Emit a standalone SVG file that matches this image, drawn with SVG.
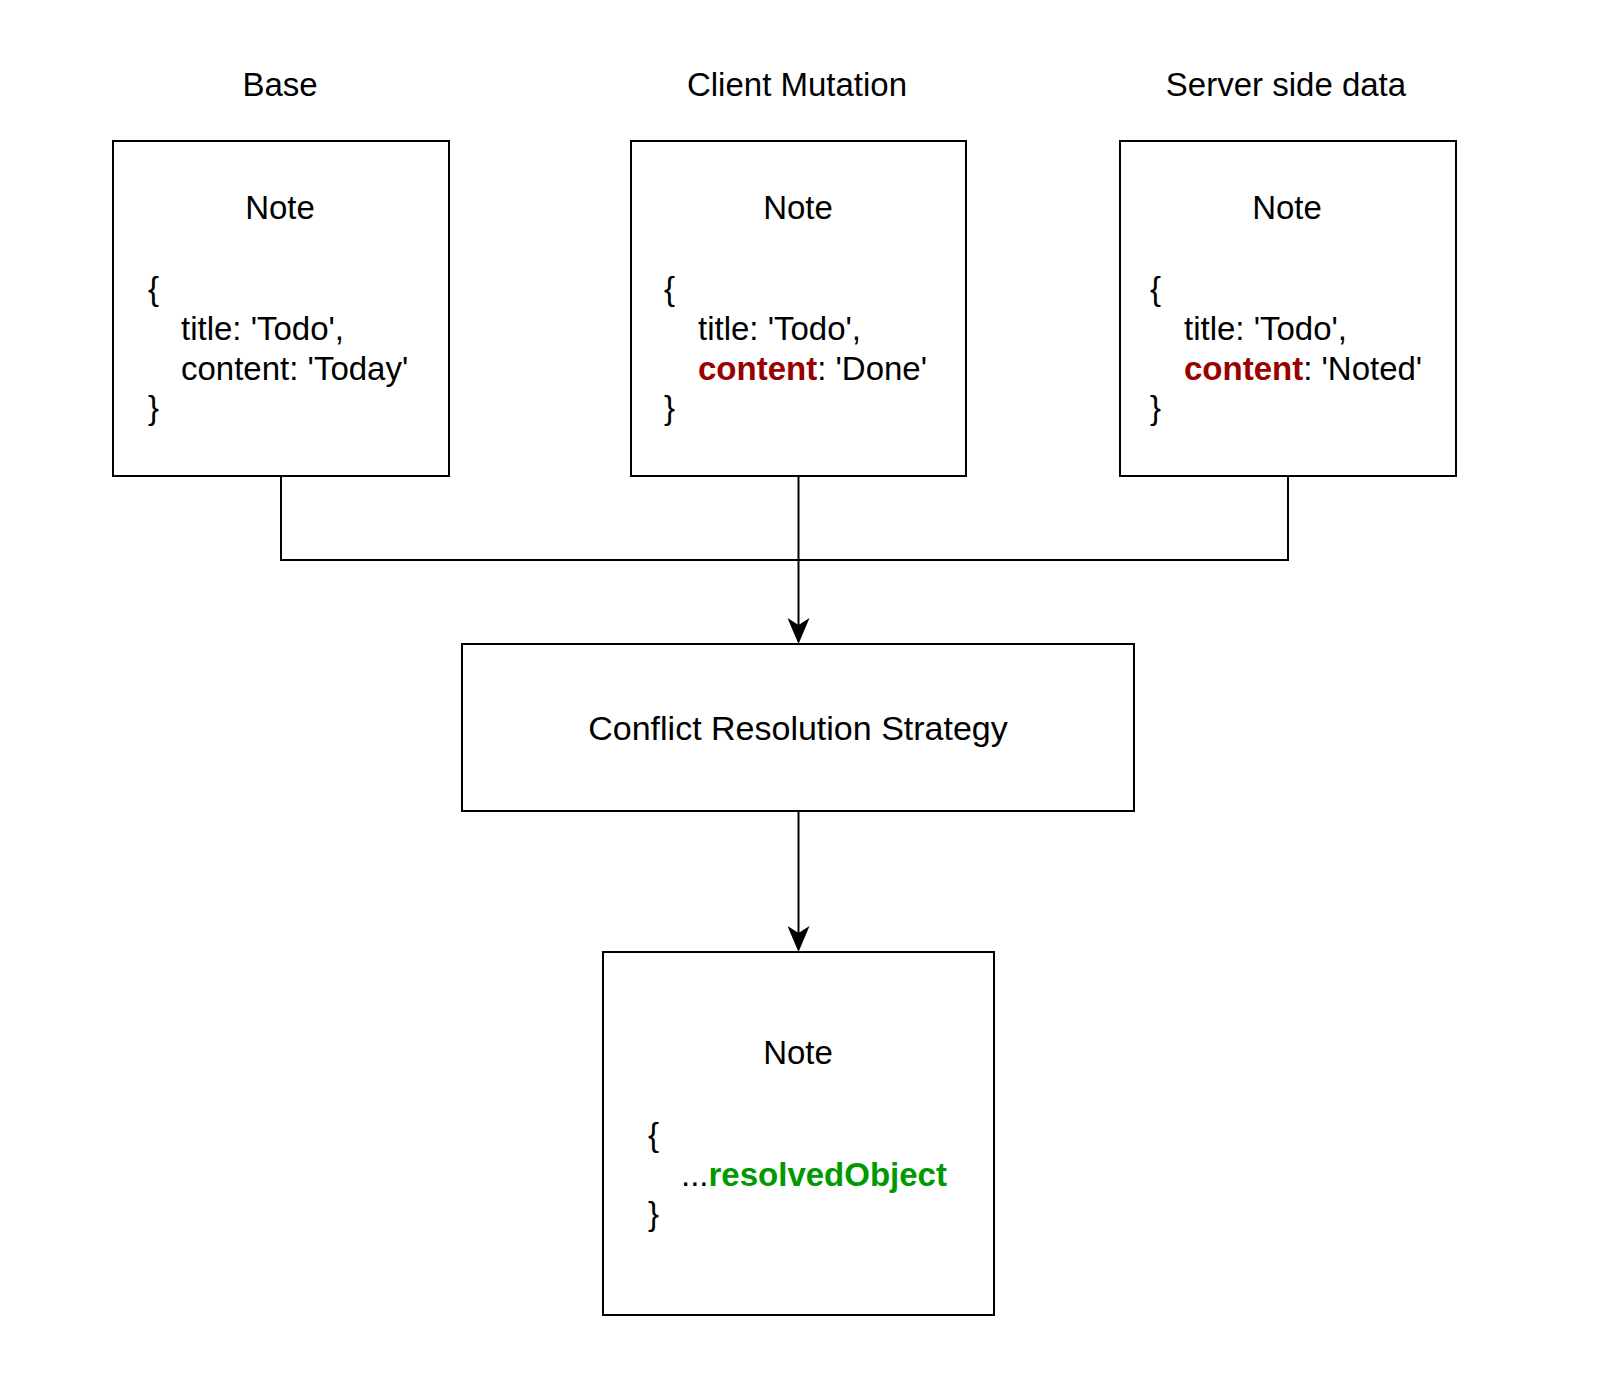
<svg xmlns="http://www.w3.org/2000/svg" width="1600" height="1376" viewBox="0 0 1600 1376">
  <style>
    text { font-family: "Liberation Sans", Arial, sans-serif; font-size: 33px; fill: #000000; }
    .c { text-anchor: middle; }
    .big { font-size: 34px; }
    .box { fill: #ffffff; stroke: #000000; stroke-width: 2; }
    .edge { fill: none; stroke: #000000; stroke-width: 2; }
    .red { fill: #990000; font-weight: bold; }
    .green { fill: #009900; font-weight: bold; }
  </style>
  <defs>
    <marker id="arrow" viewBox="0 0 26 22" refX="19" refY="11" markerWidth="26" markerHeight="22" markerUnits="userSpaceOnUse" orient="auto">
      <path d="M0,0 L26,11 L0,22 L7,11 Z" fill="#000000"/>
    </marker>
  </defs>
  <rect width="1600" height="1376" fill="#ffffff"/>

  <g id="labels">
    <text class="c" x="280" y="96">Base</text>
    <text class="c" x="797" y="96">Client Mutation</text>
    <text class="c" x="1286" y="96">Server side data</text>
  </g>

  <g id="connectors">
    <polyline class="edge" points="281,476 281,560 1288,560 1288,476"/>
    <line class="edge" x1="798.5" y1="476" x2="798.5" y2="637" marker-end="url(#arrow)"/>
    <line class="edge" x1="798.5" y1="811" x2="798.5" y2="945" marker-end="url(#arrow)"/>
  </g>

  <g id="base">
    <rect class="box" x="113" y="141" width="336" height="335"/>
    <text class="c" x="280" y="219">Note</text>
    <text x="148" y="300">{</text>
    <text x="181" y="340">title: 'Todo',</text>
    <text x="181" y="379.5">content: 'Today'</text>
    <text x="148" y="419">}</text>
  </g>

  <g id="client">
    <rect class="box" x="631" y="141" width="335" height="335"/>
    <text class="c" x="798" y="219">Note</text>
    <text x="664" y="300">{</text>
    <text x="698" y="340">title: 'Todo',</text>
    <text x="698" y="379.5"><tspan class="red">content</tspan>: 'Done'</text>
    <text x="664" y="419">}</text>
  </g>

  <g id="server">
    <rect class="box" x="1120" y="141" width="336" height="335"/>
    <text class="c" x="1287" y="219">Note</text>
    <text x="1150" y="300">{</text>
    <text x="1184" y="340">title: 'Todo',</text>
    <text x="1184" y="379.5"><tspan class="red">content</tspan>: 'Noted'</text>
    <text x="1150" y="419">}</text>
  </g>

  <g id="strategy">
    <rect class="box" x="462" y="644" width="672" height="167"/>
    <text class="c big" x="798" y="740">Conflict Resolution Strategy</text>
  </g>

  <g id="result">
    <rect class="box" x="603" y="952" width="391" height="363"/>
    <text class="c" x="798" y="1064">Note</text>
    <text x="648" y="1146">{</text>
    <text x="681" y="1186">...<tspan class="green">resolvedObject</tspan></text>
    <text x="648" y="1225">}</text>
  </g>
</svg>
